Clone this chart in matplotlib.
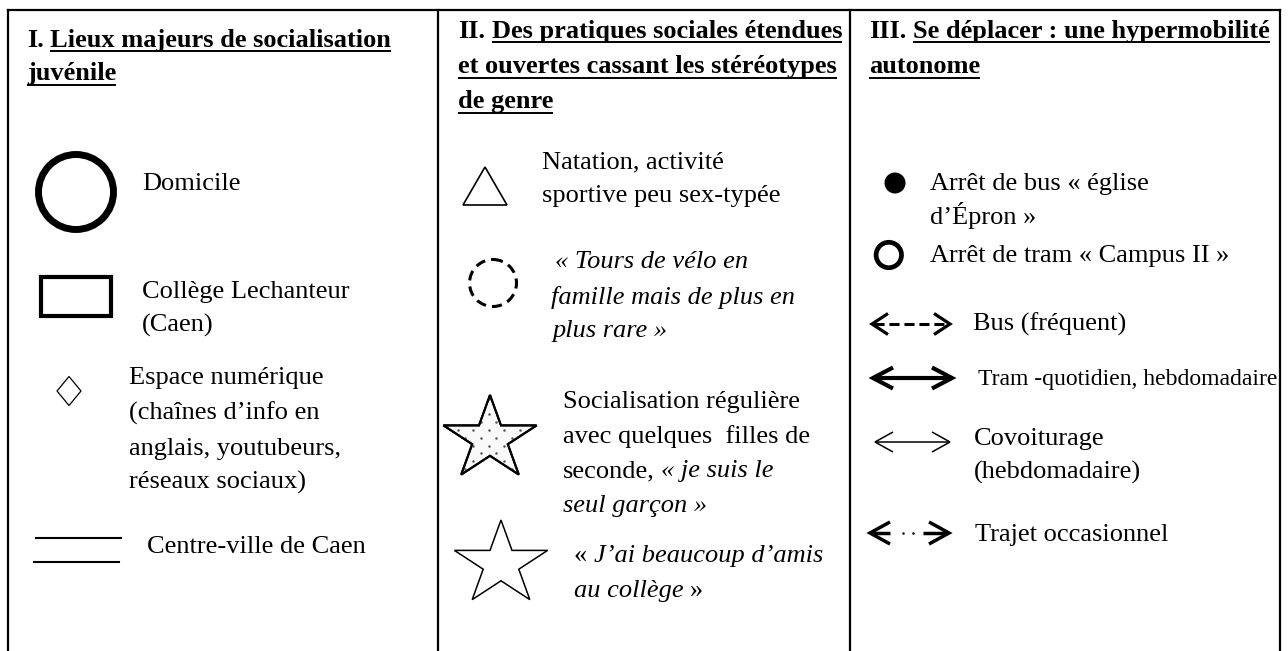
import matplotlib
matplotlib.use("Agg")
import matplotlib.pyplot as plt
from matplotlib.patches import Circle, Rectangle, Polygon
import numpy as np

# ---------------- content (texts) ----------------
title_1 = [[("I. ", "b"), ("Lieux majeurs de socialisation", "bu")],
           [("juvénile", "bu")]]
title_2 = [[("II. ", "b"), ("Des pratiques sociales étendues", "bu")],
           [("et ouvertes cassant les stéréotypes", "bu")],
           [("de genre", "bu")]]
title_3 = [[("III. ", "b"), ("Se déplacer : une hypermobilité", "bu")],
           [("autonome", "bu")]]

label_domicile = [[("Domicile", "r")]]
label_college = [[("Collège Lechanteur", "r")], [("(Caen)", "r")]]
label_numerique = [[("Espace numérique", "r")], [("(chaînes d’info en", "r")],
                   [("anglais, youtubeurs,", "r")], [("réseaux sociaux)", "r")]]
label_centre = [[("Centre-ville de Caen", "r")]]

label_natation = [[("Natation, activité", "r")], [("sportive peu sex-typée", "r")]]
label_velo = [[("« Tours de vélo en", "i")], [("famille mais de plus en", "i")],
              [("plus rare »", "i")]]
label_social = [[("Socialisation régulière", "r")], [("avec quelques  filles de", "r")],
                [("seconde, ", "r"), ("« je suis le", "i")], [("seul garçon »", "i")]]
label_amis = [[("« ", "r"), ("J’ai beaucoup d’amis", "i")],
              [("au collège", "i"), (" »", "r")]]

label_bus_stop = [[("Arrêt de bus « église", "r")], [("d’Épron »", "r")]]
label_tram_stop = [[("Arrêt de tram « Campus II »", "r")]]
label_bus = [[("Bus (fréquent)", "r")]]
label_tram = [[("Tram -quotidien, hebdomadaire", "r")]]
label_covoit = [[("Covoiturage", "r")], [("(hebdomadaire)", "r")]]
label_trajet = [[("Trajet occasionnel", "r")]]

# ---------------- figure setup ----------------
W, H = 1288, 651
FONT = "Liberation Serif"
fig = plt.figure(figsize=(W / 100, H / 100), dpi=100)
ax = fig.add_axes([0, 0, 1, 1])
ax.set_xlim(0, W)
ax.set_ylim(H, 0)
ax.axis("off")
renderer = fig.canvas.get_renderer()


def _w(s, size, weight="normal", style="normal"):
    t = ax.text(0, 0, s, fontfamily=FONT, fontsize=size, fontweight=weight, fontstyle=style)
    bb = t.get_window_extent(renderer)
    t.remove()
    return bb


def space_w(size, weight, style):
    return _w("n n", size, weight, style).width - _w("nn", size, weight, style).width


def draw_runs(x, y, parts, size=19, ul_off=4):
    for txt, st in parts:
        weight = "bold" if "b" in st else "normal"
        style = "italic" if "i" in st else "normal"
        sw = space_w(size, weight, style)
        lead = len(txt) - len(txt.lstrip(" "))
        trail = len(txt) - len(txt.rstrip(" "))
        core = txt.strip(" ")
        x += lead * sw
        t = ax.text(x, y, core, fontfamily=FONT, fontsize=size, fontweight=weight,
                    fontstyle=style, ha="left", va="baseline", color="black")
        bb = t.get_window_extent(renderer)
        x_end = bb.x1
        if "u" in st:
            ax.plot([x, x_end], [y + ul_off, y + ul_off], color="black", lw=1.4,
                    solid_capstyle="butt")
        x = x_end + trail * sw


def draw_block(x, ys, lines, size=19, ul_offs=None):
    for k, (yy, parts) in enumerate(zip(ys, lines)):
        off = ul_offs[k] if ul_offs else 4
        draw_runs(x, yy, parts, size, off)


# ---------------- table borders ----------------
bl = 1.6
ax.plot([8, 1280], [10, 10], color="black", lw=bl, solid_capstyle="projecting")
for xv in [8, 438, 850, 1280]:
    ax.plot([xv, xv], [10, H + 5], color="black", lw=bl)

# ---------------- titles ----------------
draw_block(27, [47, 80], title_1, 19, [4, 5])
draw_block(458, [38, 73, 108], title_2, 19, [4, 5, 5])
draw_block(869, [38, 73], title_3, 19, [4, 5])

# ---------------- column I ----------------
ax.add_patch(Circle((76, 192), 37.5, fill=False, lw=5, ec="black"))
draw_block(142, [190], label_domicile)

ax.add_patch(Rectangle((41.3, 277), 70, 38.7, fill=False, lw=3, ec="black"))
draw_block(142, [298, 332], label_college)

ax.add_patch(Polygon([(69, 376.5), (81, 391), (69, 405.5), (57, 391)], closed=True,
                     fill=False, lw=0.9, ec="black"))
draw_block(129, [384, 420, 455, 489], label_numerique)

ax.plot([36, 121], [538, 538], color="black", lw=1.5)
ax.plot([34, 119], [562, 562], color="black", lw=1.5)
draw_block(147, [553], label_centre)

# ---------------- column II ----------------
ax.add_patch(Polygon([(485, 167), (507, 205), (463, 205)], closed=True,
                     fill=False, lw=1.2, ec="black"))
draw_block(542, [168, 202], label_natation)

ax.add_patch(Circle((493, 283), 23.5, fill=False, lw=2.2, ec="black",
                    linestyle=(0, (3.3, 2.0))))
draw_block(555, [268], label_velo[:1])
draw_block(551, [304], label_velo[1:2])
draw_block(553, [337], label_velo[2:])


def star_pts(cx, cy, rx, ry, inner=0.382):
    ang = np.pi / 2 + np.arange(10) * np.pi / 5
    r = np.where(np.arange(10) % 2 == 0, 1.0, inner)
    return np.c_[cx + rx * r * np.cos(ang), cy - ry * r * np.sin(ang)]


star1 = Polygon(star_pts(490, 439, 49, 44), closed=True, fc="#f9f9f9", ec="black",
                lw=1.5, joinstyle="miter")
ax.add_patch(star1)
gx, gy = [], []
for j in range(-2, 12):
    off = 7.75 if j % 2 else 0.0
    for k in range(-5, 6):
        gx.append(488.7 + off + 15.5 * k)
        gy.append(414.3 + 7.8 * j)
dots = ax.scatter(gx, gy, s=3.2, c="#555555", linewidths=0, zorder=3)
dots.set_clip_path(star1)
ax.add_patch(Polygon(star_pts(490, 439, 49, 44), closed=True, fill=False, ec="black",
                     lw=1.5, joinstyle="miter", zorder=4))
draw_block(563, [408, 443, 477, 512], label_social)

ax.add_patch(Polygon(star_pts(501, 564, 49, 44), closed=True, fill=False, ec="black",
                     lw=1.1, joinstyle="miter"))
draw_block(574, [562, 597], label_amis)

# ---------------- column III ----------------
ax.add_patch(Circle((895, 183), 10.5, fc="black", ec="black", lw=0))
draw_block(930, [190, 224], label_bus_stop)
ax.add_patch(Circle((888.8, 255), 12.7, fill=False, ec="black", lw=3.4))
draw_block(930, [262], label_tram_stop)


def heads(x0, x1, y, hl, hh, lw):
    kw = dict(color="black", lw=lw, solid_joinstyle="miter", solid_capstyle="butt")
    ax.plot([x0 + hl, x0, x0 + hl], [y - hh, y, y + hh], **kw)
    ax.plot([x1 - hl, x1, x1 - hl], [y - hh, y, y + hh], **kw)


# bus (dashed shaft)
heads(872, 950, 324, 16, 10.5, 2.3)
ax.plot([874, 948], [324, 324], color="black", lw=2.2, linestyle=(0, (3.3, 1.6)))
draw_block(973, [331], label_bus)

# tram (thick solid)
heads(873, 952, 378, 20, 10.5, 3.0)
ax.plot([875, 950], [378, 378], color="black", lw=3.0)
draw_block(978, [385], label_tram, size=17)

# covoiturage (thin solid)
heads(875, 950, 442, 18, 10, 1.1)
ax.plot([876, 949], [442, 442], color="black", lw=1.1)
draw_block(974, [445, 479], label_covoit)

# trajet occasionnel
heads(870, 949, 533, 20, 11, 2.5)
ax.plot([872, 890], [533, 533], color="black", lw=2.5, solid_capstyle="butt")
ax.plot([923, 947], [533, 533], color="black", lw=2.5, solid_capstyle="butt")
ax.plot([903.3, 913.3], [533, 533], "o", color="black", ms=1.8, mew=0)
draw_block(975, [541], label_trajet)

fig.savefig("out.png", dpi=100, facecolor="white")
